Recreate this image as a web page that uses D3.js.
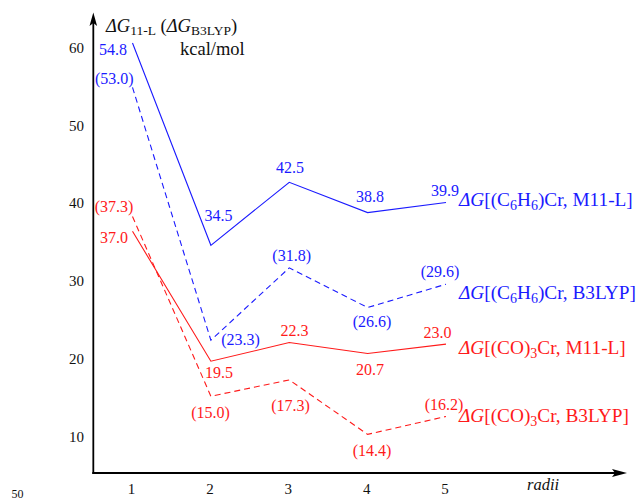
<!DOCTYPE html>
<html>
<head>
<meta charset="utf-8">
<script src="https://cdn.jsdelivr.net/npm/d3@7"></script>
<style>
  body { margin: 0; background: #fff; }
  svg { display: block; }
</style>
</head>
<body>
<div id="chart"></div>
<script>
// radii along the x axis
const radii = [1, 2, 3, 4, 5];
const yTicks = [10, 20, 30, 40, 50, 60];

// plotted heights (axis units, as drawn) and printed labels
const benzM11 = [60.6, 34.6, 42.7, 38.8, 40.1];
const benzM11Labels = ["54.8", "34.5", "42.5", "38.8", "39.9"];
const benzB3 = [54.9, 22.4, 31.7, 26.6, 29.6];
const benzB3Labels = ["(53.0)", "(23.3)", "(31.8)", "(26.6)", "(29.6)"];
const coM11 = [36.4, 19.7, 22.1, 20.7, 21.9];
const coM11Labels = ["37.0", "19.5", "22.3", "20.7", "23.0"];
const coB3 = [38.3, 15.2, 17.3, 10.3, 12.6];
const coB3Labels = ["(37.3)", "(15.0)", "(17.3)", "(14.4)", "(16.2)"];

const W = 637, H = 500;
const blue = "#1a1aff", red = "#ff1a1a";

const x = d3.scaleLinear().domain([1, 5]).range([132.5, 446]);
const y = d3.scaleLinear().domain([10, 60]).range([436.7, 47.7]);

const svg = d3.select("#chart").append("svg")
  .attr("width", W).attr("height", H)
  .attr("viewBox", `0 0 ${W} ${H}`)
  .attr("font-family", "'Liberation Serif', 'DejaVu Serif', serif");

// axes with arrow heads
const x0 = x(0.5), y0 = 473;
svg.append("line").attr("x1", x0).attr("y1", y0 + 1).attr("x2", x0).attr("y2", 22)
  .attr("stroke", "#000").attr("stroke-width", 1.8);
svg.append("line").attr("x1", x0 - 1).attr("y1", y0).attr("x2", 615).attr("y2", y0)
  .attr("stroke", "#000").attr("stroke-width", 1.8);
svg.append("path").attr("d", `M${x0},12.5 L${x0 + 3.8},26 L${x0},23 L${x0 - 3.8},26 Z`).attr("fill", "#000");
svg.append("path").attr("d", `M627,${y0} L612,${y0 - 4} L615,${y0} L612,${y0 + 4} Z`).attr("fill", "#000");

// tick labels
svg.selectAll(".ytick").data(yTicks).enter().append("text")
  .attr("class", "ytick")
  .attr("x", 84).attr("y", d => y(d) + 5)
  .attr("text-anchor", "end").attr("font-size", 15).attr("fill", "#111")
  .text(d => d);
svg.selectAll(".xtick").data(radii).enter().append("text")
  .attr("class", "xtick")
  .attr("x", d => x(d) - 1).attr("y", 494)
  .attr("text-anchor", "middle").attr("font-size", 15).attr("fill", "#111")
  .text(d => d);
svg.append("text").attr("x", 527).attr("y", 490)
  .attr("font-size", 16.5).attr("font-style", "italic").attr("fill", "#111").text("radii");
svg.append("text").attr("x", 11.5).attr("y", 498)
  .attr("font-size", 12).attr("fill", "#111").text("50");

// y title
const title = svg.append("text").attr("x", 106).attr("y", 31.5).attr("font-size", 18.5).attr("fill", "#111");
title.append("tspan").attr("font-style", "italic").text("ΔG");
title.append("tspan").attr("font-size", 13.5).attr("dy", 3).text("11-L");
title.append("tspan").attr("dy", -3).text(" (");
title.append("tspan").attr("font-style", "italic").text("ΔG");
title.append("tspan").attr("font-size", 13.5).attr("dy", 3).text("B3LYP");
title.append("tspan").attr("dy", -3).text(")");
svg.append("text").attr("x", 180).attr("y", 54.5)
  .attr("font-size", 18.5).attr("fill", "#111").text("kcal/mol");

const line = d3.line().x((d, i) => x(radii[i])).y(d => y(d));

const series = [
  { vals: benzM11, labels: benzM11Labels, color: blue, dash: null,
    lpos: [[113, 54.5], [218.5, 220.5], [290, 173], [370, 201.5], [445, 196]],
    legend: ["(C", "6", "H", "6", ")Cr, M11-L]"], ly: 206 },
  { vals: benzB3, labels: benzB3Labels, color: blue, dash: "6,4",
    lpos: [[114.3, 84], [240.5, 345], [291.7, 261], [372, 326.5], [440, 277]],
    legend: ["(C", "6", "H", "6", ")Cr, B3LYP]"], ly: 298.5 },
  { vals: coM11, labels: coM11Labels, color: red, dash: null,
    lpos: [[114, 243], [219, 378], [294.5, 336], [370, 375], [437.5, 338]],
    legend: ["(CO)", "3", "Cr, M11-L]"], ly: 354 },
  { vals: coB3, labels: coB3Labels, color: red, dash: "6,4",
    lpos: [[114, 211.5], [210.5, 418], [290.5, 411], [372, 456], [444, 410]],
    legend: ["(CO)", "3", "Cr, B3LYP]"], ly: 421.5 }
];

series.forEach(s => {
  svg.append("path").datum(s.vals)
    .attr("d", line)
    .attr("fill", "none")
    .attr("stroke", s.color)
    .attr("stroke-width", 1.1)
    .attr("stroke-dasharray", s.dash);

  svg.selectAll(null).data(s.labels).enter().append("text")
    .attr("x", (d, i) => s.lpos[i][0]).attr("y", (d, i) => s.lpos[i][1])
    .attr("text-anchor", "middle").attr("font-size", 16).attr("fill", s.color)
    .text(d => d);

  const t = svg.append("text").attr("x", 459).attr("y", s.ly)
    .attr("font-size", 19.3).attr("fill", s.color);
  t.append("tspan").attr("font-style", "italic").text("ΔG");
  t.append("tspan").text("[");
  s.legend.forEach((part, i) => {
    if (i % 2 == 1) {
      t.append("tspan").attr("font-size", 14).attr("dy", 4).text(part);
    } else {
      t.append("tspan").attr("dy", i == 0 ? 0 : -4).text(part);
    }
  });
});
</script>
</body>
</html>
